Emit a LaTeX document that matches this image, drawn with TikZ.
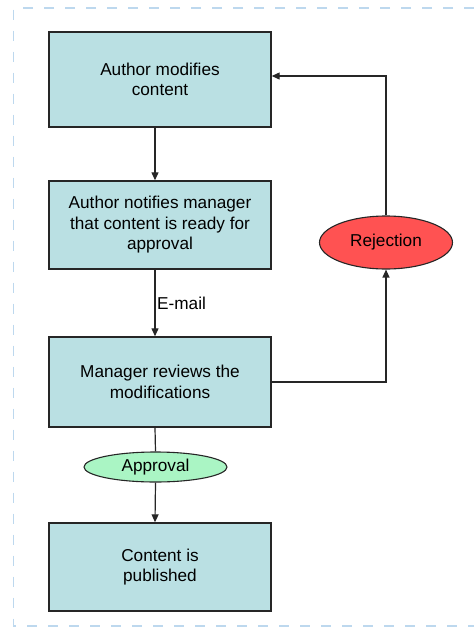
\documentclass[tikz,border=0pt]{standalone}
\usepackage{fontspec}
\setmainfont{Liberation Sans}
\usetikzlibrary{shapes.geometric,arrows.meta}
\definecolor{boxfill}{RGB}{186,224,227}
\definecolor{rejfill}{RGB}{255,82,82}
\definecolor{appfill}{RGB}{170,245,196}
\definecolor{framecol}{RGB}{189,216,238}
\newcommand{\flowfont}{\fontsize{17.2}{20.5}\selectfont}
\tikzset{
	stepbox/.style={draw=black!85, line width=1.4pt, fill=boxfill, minimum width=222pt, align=center, font=\flowfont, inner sep=0pt},
	decision/.style={ellipse, draw=black!85, line width=1.1pt, font=\flowfont, inner sep=0pt},
	link/.style={line width=1.2pt, draw=black!85},
	arr/.style={link, -{Triangle[width=7pt,length=8pt]}},
	frame/.style={framecol, line width=1.4pt, dash pattern=on 10pt off 11pt}
}

\begin{document}
\begin{tikzpicture}[x=1pt,y=-1pt]
	\useasboundingbox (0,0) rectangle (474,635);

	% dashed page frame
	\draw[frame] (474,8) -- (13.5,8) -- (13.5,626) -- (474,626);

	% steps
	\node[stepbox, minimum height=95pt] (modify) at (160,79.5) {Author modifies\\content};
	\node[stepbox, minimum height=88pt] (notify) at (160,225) {Author notifies manager\\that content is ready for\\approval};
	\node[stepbox, minimum height=90pt] (review) at (160,382) {Manager reviews the\\modifications};
	\node[stepbox, minimum height=88pt] (publish) at (160,567) {Content is\\published};

	% outcomes
	\node[decision, fill=rejfill, minimum width=133pt, minimum height=53pt] (reject) at (386,242.5) {Rejection};
	\node[decision, fill=appfill, minimum width=143pt, minimum height=30pt] (approve) at (155.5,467) {Approval};

	\node[anchor=west, font=\flowfont, inner sep=0pt] (email) at (157,303) {E-mail};

	% connectors
	\draw[arr] ([xshift=-5pt]modify.south) -- ([xshift=-5pt]notify.north);
	\draw[arr] ([xshift=-5pt]notify.south) -- ([xshift=-5pt]review.north);
	\draw[link] ([xshift=-5pt]review.south) -- (approve.north);
	\draw[arr] (approve.south) -- ([xshift=-5pt]publish.north);
	\draw[arr] (review.east) -| (reject.south);
	\draw[arr] (reject.north) |- ([yshift=3.5pt]modify.east);
\end{tikzpicture}
\end{document}
